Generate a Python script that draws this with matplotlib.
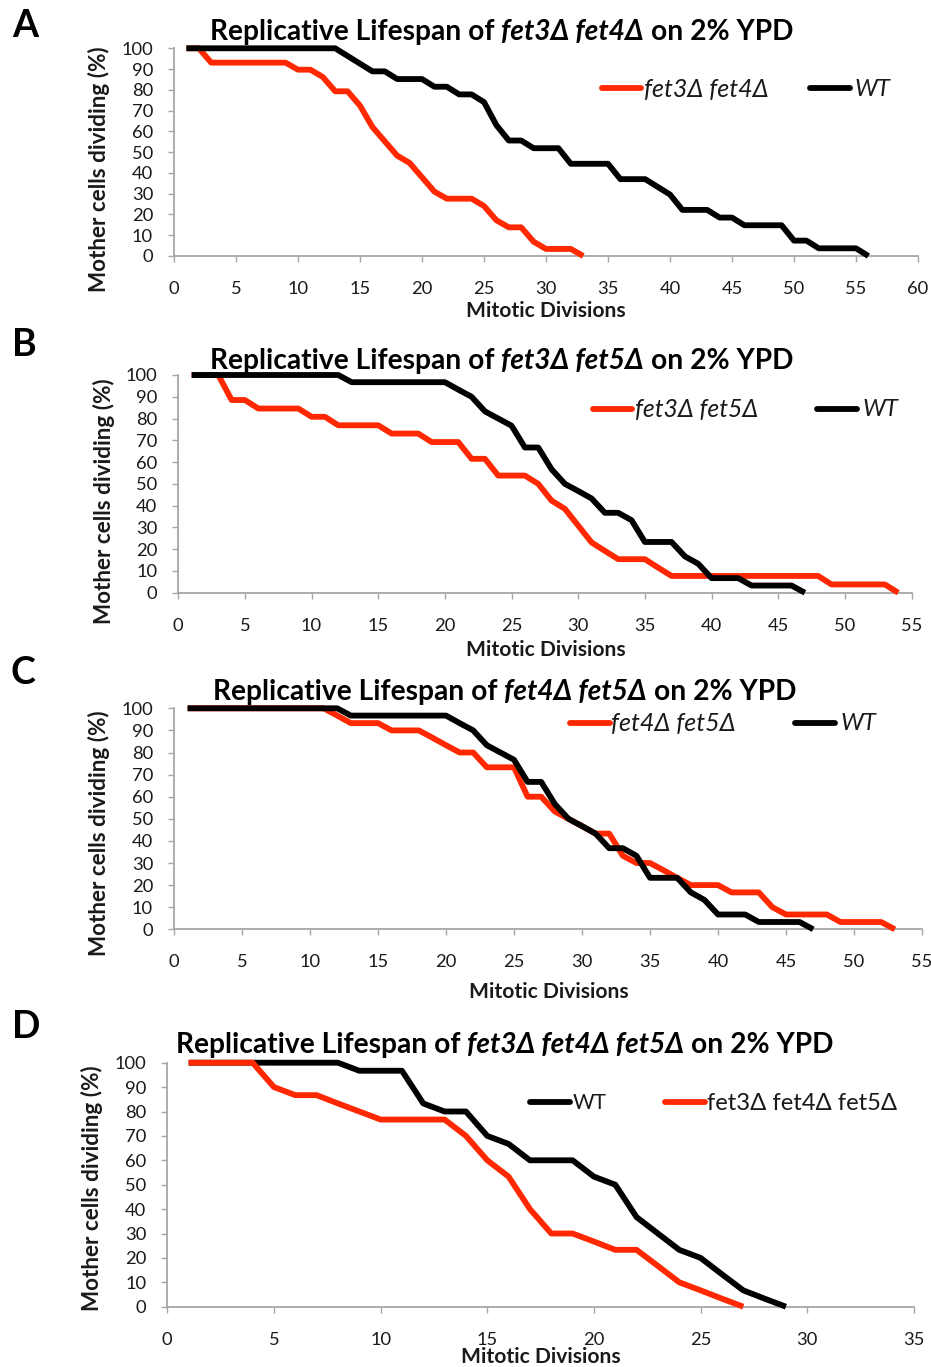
import matplotlib
matplotlib.use('Agg')
import matplotlib.pyplot as plt
import numpy as np
from matplotlib.transforms import IdentityTransform
from matplotlib.lines import Line2D

plt.rcParams['font.family'] = ['Lato', 'DejaVu Sans']

# ---------------- data (% mother cells still dividing, per division 1..N) -------------
red_A = [100, 100, 93.1, 93.1, 93.1, 93.1, 93.1, 93.1, 93.1, 89.7, 89.7, 86.2, 79.3, 79.3,
         72.4, 62.1, 55.2, 48.3, 44.8, 37.9, 31.0, 27.6, 27.6, 27.6, 24.1, 17.2, 13.8, 13.8,
         6.9, 3.4, 3.4, 3.4, 0]
wt_A = [100, 100, 100, 100, 100, 100, 100, 100, 100, 100, 100, 100, 100, 96.3, 92.6, 88.9,
        88.9, 85.2, 85.2, 85.2, 81.5, 81.5, 77.8, 77.8, 74.1, 63.0, 55.6, 55.6, 51.9, 51.9,
        51.9, 44.4, 44.4, 44.4, 44.4, 37.0, 37.0, 37.0, 33.3, 29.6, 22.2, 22.2, 22.2, 18.5,
        18.5, 14.8, 14.8, 14.8, 14.8, 7.4, 7.4, 3.7, 3.7, 3.7, 3.7, 0]

red_B = [100, 100, 100, 88.5, 88.5, 84.6, 84.6, 84.6, 84.6, 80.8, 80.8, 76.9, 76.9, 76.9,
         76.9, 73.1, 73.1, 73.1, 69.2, 69.2, 69.2, 61.5, 61.5, 53.8, 53.8, 53.8, 50.0, 42.3,
         38.5, 30.8, 23.1, 19.2, 15.4, 15.4, 15.4, 11.5, 7.7, 7.7, 7.7, 7.7, 7.7, 7.7, 7.7,
         7.7, 7.7, 7.7, 7.7, 7.7, 3.8, 3.8, 3.8, 3.8, 3.8, 0]
wt_BC = [100, 100, 100, 100, 100, 100, 100, 100, 100, 100, 100, 100, 96.7, 96.7, 96.7, 96.7,
         96.7, 96.7, 96.7, 96.7, 93.3, 90.0, 83.3, 80.0, 76.7, 66.7, 66.7, 56.7, 50.0, 46.7,
         43.3, 36.7, 36.7, 33.3, 23.3, 23.3, 23.3, 16.7, 13.3, 6.7, 6.7, 6.7, 3.3, 3.3, 3.3,
         3.3, 0]

red_C = [100, 100, 100, 100, 100, 100, 100, 100, 100, 100, 100, 96.7, 93.3, 93.3, 93.3,
         90.0, 90.0, 90.0, 86.7, 83.3, 80.0, 80.0, 73.3, 73.3, 73.3, 60.0, 60.0, 53.3, 50.0,
         46.7, 43.3, 43.3, 33.3, 30.0, 30.0, 26.7, 23.3, 20.0, 20.0, 20.0, 16.7, 16.7, 16.7,
         10.0, 6.7, 6.7, 6.7, 6.7, 3.3, 3.3, 3.3, 3.3, 0]

red_D = [100, 100, 100, 100, 90.0, 86.7, 86.7, 83.3, 80.0, 76.7, 76.7, 76.7, 76.7, 70.0,
         60.0, 53.3, 40.0, 30.0, 30.0, 26.7, 23.3, 23.3, 16.7, 10.0, 6.7, 3.3, 0]
wt_D = [100, 100, 100, 100, 100, 100, 100, 100, 96.7, 96.7, 96.7, 83.3, 80.0, 80.0, 70.0,
        66.7, 60.0, 60.0, 60.0, 53.3, 50.0, 36.7, 30.0, 23.3, 20.0, 13.3, 6.7, 3.3, 0]

panel_letters = ['A', 'B', 'C', 'D']
x_max = [60, 55, 55, 35]
mutant_names = ['fet3Δ fet4Δ', 'fet3Δ fet5Δ', 'fet4Δ fet5Δ', 'fet3Δ fet4Δ fet5Δ']
wt_name = 'WT'
title_pre = 'Replicative Lifespan of'
title_post = 'on 2% YPD'
ylabel = 'Mother cells dividing (%)'
xlabel = 'Mitotic Divisions'

# ---------------- figure -------------------------------------------------------------
W, H = 931, 1367
fig = plt.figure(figsize=(W / 100, H / 100), dpi=100)
renderer = fig.canvas.get_renderer()
ID = IdentityTransform()

RED = '#FF2800'
BLACK = '#000000'
SPINE = '#A6A6A6'
TXT = '#1A1A1A'


def Y(py):
    return H - py


def add_axes_px(left, top, right, bottom):
    return fig.add_axes([left / W, 1 - bottom / H, (right - left) / W, (bottom - top) / H])


def style_axes(ax, xmax):
    ax.set_xlim(0, xmax)
    ax.set_ylim(0, 100)
    ax.set_xticks(np.arange(0, xmax + 1, 5))
    ax.set_yticks(np.arange(0, 101, 10))
    for s in ['top', 'right']:
        ax.spines[s].set_visible(False)
    for s in ['left', 'bottom']:
        ax.spines[s].set_color(SPINE)
        ax.spines[s].set_linewidth(1.3)
    ax.tick_params(axis='both', direction='out', length=4.5, width=1.0, color=SPINE,
                   labelsize=13.2, labelcolor=TXT)
    ax.tick_params(axis='y', pad=10.5)
    ax.tick_params(axis='x', pad=13.5)
    ax.patch.set_alpha(0)


def measure(s, size, weight, style):
    t = fig.text(0, 0, s, fontsize=size, fontweight=weight, fontstyle=style, transform=ID)
    w = t.get_window_extent(renderer).width
    t.remove()
    return w


def rich(pieces, x_left, base_y, target_w, base=14, color=TXT):
    def total(size):
        sp = measure('a a', size, pieces[0][1], 'normal') - measure('aa', size, pieces[0][1], 'normal')
        ws = [measure(p[0], size, p[1], p[2]) for p in pieces]
        return ws, sp, sum(ws) + sp * (len(pieces) - 1)
    ws, sp, tw = total(base)
    size = base * target_w / tw
    ws, sp, tw = total(size)
    x = x_left
    for (s, w, st), wd in zip(pieces, ws):
        fig.text(x, Y(base_y), s, fontsize=size, fontweight=w, fontstyle=st, transform=ID,
                 ha='left', va='baseline', color=color)
        x += wd + sp
    return size


def fit_size(s, target, weight, style, base=14):
    return base * target / measure(s, base, weight, style)


# layout per panel (pixel geometry)
axes_px = [(174, 48.3, 918, 256), (178.3, 375, 911.5, 592.7),
           (174, 708.3, 922, 929.3), (167.3, 1062.7, 913.9, 1306.7)]
title_px = [(210, 40, 585), (210, 369, 585), (213, 700, 584), (176, 1053, 658)]
letter_px = [(12, 37), (12, 356), (11, 684), (12, 1038)]
ylab_px = [(99, 169), (104, 501), (99, 833), (92, 1188)]
xlab_px = [(546, 311), (546, 650), (549, 992), (541, 1357)]
# legend: (x0, x1, y, text_left, text_width)
leg_mut = [(602, 641, 88, 644, 125), (593, 632, 409, 635, 124),
           (570, 610, 723, 611, 125), (665, 705, 1102, 707, 190)]
leg_wt = [(810, 850, 88, 855, 36), (817, 857, 409, 862, 36),
          (795, 835, 723, 840, 36), (530, 570, 1102, 573, 34)]

mutants = [red_A, red_B, red_C, red_D]
wts = [wt_A, wt_BC, wt_BC, wt_D]

LW = 4.2
for i in range(4):
    ax = add_axes_px(*axes_px[i])
    style_axes(ax, x_max[i])
    xm = np.arange(1, len(mutants[i]) + 1)
    xw = np.arange(1, len(wts[i]) + 1)
    kw = dict(lw=LW, solid_joinstyle='round', solid_capstyle='butt', clip_on=False)
    if i < 3:
        ax.plot(xm, mutants[i], color=RED, zorder=3, **kw)
        ax.plot(xw, wts[i], color=BLACK, zorder=4, **kw)
    else:
        ax.plot(xw, wts[i], color=BLACK, zorder=3, **kw)
        ax.plot(xm, mutants[i], color=RED, zorder=4, **kw)

    # panel letter
    fig.text(letter_px[i][0], Y(letter_px[i][1]), panel_letters[i], fontsize=27,
             fontweight='bold', transform=ID, ha='left', va='baseline', color='black')

    # title with italic genotype
    tx, ty, tw = title_px[i]
    rich([(title_pre, 'bold', 'normal'), (mutant_names[i], 'bold', 'italic'),
          (title_post, 'bold', 'normal')], tx, ty, tw, color='black')

    # axis labels
    ys = fit_size(ylabel, 247, 'bold', 'normal')
    fig.text(ylab_px[i][0], Y(ylab_px[i][1]), ylabel, rotation=90, fontsize=ys,
             fontweight='bold', transform=ID, ha='center', va='center', color=TXT)
    xs = fit_size(xlabel, 159, 'bold', 'normal')
    fig.text(xlab_px[i][0], Y(xlab_px[i][1]), xlabel, fontsize=xs, fontweight='bold',
             transform=ID, ha='center', va='center', color=TXT)

    # legend (drawn manually to match placement)
    style = 'italic' if i < 3 else 'normal'
    for (x0, x1, yy, tl, twd), name, col in [(leg_mut[i], mutant_names[i], RED),
                                              (leg_wt[i], wt_name, BLACK)]:
        fig.add_artist(Line2D([x0, x1], [Y(yy), Y(yy)], transform=ID, color=col, lw=LW,
                              solid_capstyle='round'))
        fs = fit_size(name, twd, 'normal', style)
        fig.text(tl, Y(yy) - 1, name, fontsize=fs, fontstyle=style, transform=ID,
                 ha='left', va='center', color=TXT)

fig.savefig('out.png', dpi=100)
